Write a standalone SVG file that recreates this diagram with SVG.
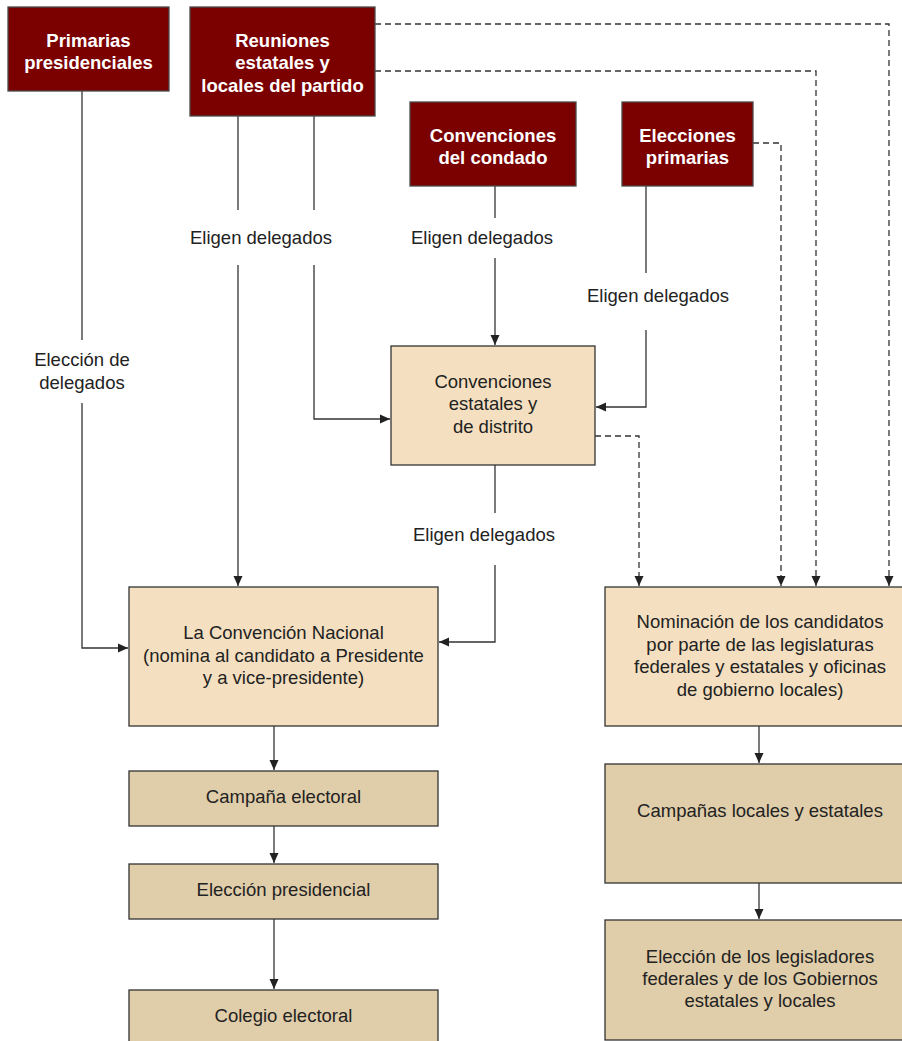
<svg xmlns="http://www.w3.org/2000/svg" width="902" height="1041" viewBox="0 0 902 1041">
<style>
.red{fill:#7b0000;stroke:#4a4a4a;stroke-width:1.3}
.light{fill:#f4e0c0;stroke:#333;stroke-width:1.3}
.tan{fill:#e0cda9;stroke:#333;stroke-width:1.3}
.wt{font-family:"Liberation Sans",Arial,sans-serif;font-size:18.5px;font-weight:bold;fill:#fff;text-anchor:middle}
.bt{font-family:"Liberation Sans",Arial,sans-serif;font-size:18.5px;fill:#222;text-anchor:middle}
.ln{fill:none;stroke:#333;stroke-width:1.3}
.ds{fill:none;stroke:#333;stroke-width:1.3;stroke-dasharray:6 4}
</style>
<defs>
<marker id="ah" markerUnits="userSpaceOnUse" markerWidth="10" markerHeight="10" refX="10" refY="5" orient="auto">
<path d="M0,0.5 L10,5 L0,9.5 z" fill="#222"/>
</marker>
</defs>
<rect width="902" height="1041" fill="#fff"/>
<g id="connectors">
<path class="ln" d="M82,91 V340"/>
<path class="ln" d="M82,403 V648 H128" marker-end="url(#ah)"/>
<path class="ln" d="M238,116 V210"/>
<path class="ln" d="M314,116 V210"/>
<path class="ln" d="M238,265 V586" marker-end="url(#ah)"/>
<path class="ln" d="M314,265 V419 H390" marker-end="url(#ah)"/>
<path class="ln" d="M495,186 V218"/>
<path class="ln" d="M495,258 V345" marker-end="url(#ah)"/>
<path class="ln" d="M646,186 V273"/>
<path class="ln" d="M646,330 V407 H596" marker-end="url(#ah)"/>
<path class="ln" d="M495,465 V513"/>
<path class="ln" d="M495,565 V642 H439" marker-end="url(#ah)"/>
<path class="ln" d="M274,726 V770" marker-end="url(#ah)"/>
<path class="ln" d="M274,826 V863" marker-end="url(#ah)"/>
<path class="ln" d="M274,919 V989" marker-end="url(#ah)"/>
<path class="ln" d="M759,726 V763" marker-end="url(#ah)"/>
<path class="ln" d="M759,883 V919" marker-end="url(#ah)"/>
<path class="ds" d="M375,24 H889 V586" marker-end="url(#ah)"/>
<path class="ds" d="M375,71 H816 V586" marker-end="url(#ah)"/>
<path class="ds" d="M753,143 H781 V586" marker-end="url(#ah)"/>
<path class="ds" d="M595,436 H639 V586" marker-end="url(#ah)"/>
<text class="bt" x="261" y="244">Eligen delegados</text>
<text class="bt" x="482" y="244">Eligen delegados</text>
<text class="bt" x="658" y="302">Eligen delegados</text>
<text class="bt" x="484" y="541">Eligen delegados</text>
<text class="bt" x="82" y="366">Elección de</text>
<text class="bt" x="82" y="389">delegados</text>
</g>
<g id="primarias-presidenciales">
<rect class="red" x="8" y="7" width="161" height="84"/>
<text class="wt" x="88.5" y="47">Primarias</text>
<text class="wt" x="88.5" y="69">presidenciales</text>
</g>
<g id="reuniones">
<rect class="red" x="190" y="7" width="185" height="109"/>
<text class="wt" x="282.5" y="47">Reuniones</text>
<text class="wt" x="282.5" y="69">estatales y</text>
<text class="wt" x="282.5" y="92">locales del partido</text>
</g>
<g id="convenciones-condado">
<rect class="red" x="410" y="102" width="166" height="84"/>
<text class="wt" x="493" y="142">Convenciones</text>
<text class="wt" x="493" y="164">del condado</text>
</g>
<g id="elecciones-primarias">
<rect class="red" x="622" y="102" width="131" height="84"/>
<text class="wt" x="687.5" y="142">Elecciones</text>
<text class="wt" x="687.5" y="164">primarias</text>
</g>
<g id="convenciones-estatales">
<rect class="light" x="391" y="346" width="204" height="119"/>
<text class="bt" x="493" y="388">Convenciones</text>
<text class="bt" x="493" y="410">estatales y</text>
<text class="bt" x="493" y="433">de distrito</text>
</g>
<g id="convencion-nacional">
<rect class="light" x="129" y="587" width="309" height="139"/>
<text class="bt" x="283.5" y="639">La Convención Nacional</text>
<text class="bt" x="283.5" y="662">(nomina al candidato a Presidente</text>
<text class="bt" x="283.5" y="684">y a vice-presidente)</text>
</g>
<g id="campana-electoral">
<rect class="tan" x="129" y="771" width="309" height="55"/>
<text class="bt" x="283.5" y="803">Campaña electoral</text>
</g>
<g id="eleccion-presidencial">
<rect class="tan" x="129" y="864" width="309" height="55"/>
<text class="bt" x="283.5" y="896">Elección presidencial</text>
</g>
<g id="colegio-electoral">
<rect class="tan" x="129" y="990" width="309" height="60"/>
<text class="bt" x="283.5" y="1022">Colegio electoral</text>
</g>
<g id="nominacion">
<rect class="light" x="605" y="587" width="305" height="139"/>
<text class="bt" x="760" y="628">Nominación de los candidatos</text>
<text class="bt" x="760" y="651">por parte de las legislaturas</text>
<text class="bt" x="760" y="673">federales y estatales y oficinas</text>
<text class="bt" x="760" y="696">de gobierno locales)</text>
</g>
<g id="campanas-locales">
<rect class="tan" x="605" y="764" width="305" height="119"/>
<text class="bt" x="760" y="817">Campañas locales y estatales</text>
</g>
<g id="eleccion-legisladores">
<rect class="tan" x="605" y="920" width="305" height="120"/>
<text class="bt" x="760" y="963">Elección de los legisladores</text>
<text class="bt" x="760" y="985">federales y de los Gobiernos</text>
<text class="bt" x="760" y="1007">estatales y locales</text>
</g>
</svg>
